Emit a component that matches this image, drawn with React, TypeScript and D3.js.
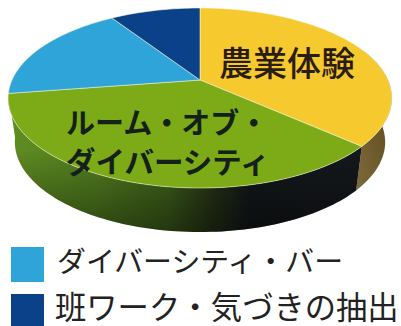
import React from "react";
import * as d3 from "d3";

const categories = ["農業体験", "ルーム・オブ・ダイバーシティ", "ダイバーシティ・バー", "班ワーク・気づきの抽出"];
const shares = [36.6, 36, 18.2, 9.2];
const topColors = ["#f6c92f", "#7cab17", "#2fa4d9", "#0a4189"];
const legendEntries = [
  { index: 2, size: 28.9 },
  { index: 3, size: 31.3 },
];

const FONT = "'Noto Sans CJK JP', sans-serif";

// The disc is seen in perspective, so its hub sits above the centre of the outline.
const PERSPECTIVE = -0.2;
const HUB_Y = 80;
const SCALE_Y = 70.4;
const SCALE_X = 188;
const CENTER_X = 200;

type Pt = [number, number];

function project(angle: number, radius = 1, drop = 0, shrink = 1): Pt {
  const x = radius * Math.sin(angle);
  const y = -radius * Math.cos(angle);
  const w = 1 + PERSPECTIVE * y;
  return [CENTER_X + ((SCALE_X * x) / w) * shrink, (HUB_Y + SCALE_Y * y) / w + drop];
}

function sampleAngles(a0: number, a1: number): number[] {
  const n = Math.max(4, Math.ceil(Math.abs(a1 - a0) * 40));
  return d3.range(n + 1).map((i) => a0 + ((a1 - a0) * i) / n);
}

const path = d3.line<Pt>().x((d) => d[0]).y((d) => d[1]);
const pieLayout = d3.pie<number>().sort(null).value((d) => d);
const arcs = pieLayout(shares);

const DEPTH = 44;
const BOTTOM_SHRINK = 0.965;

function sidePath(a0: number, a1: number): string {
  const upper = sampleAngles(a0, a1).map((a) => project(a));
  const lower = sampleAngles(a1, a0).map((a) => project(a, 1, DEPTH, BOTTOM_SHRINK));
  return path([...upper, ...lower])! + "Z";
}

function slicePath(a0: number, a1: number): string {
  return path([project(0, 0), ...sampleAngles(a0, a1).map((a) => project(a))])! + "Z";
}

export default function App() {
  const yellow = arcs[0];
  const green = arcs[1];
  const wall = sidePath(green.startAngle, green.endAngle);
  return (
    <svg
      width={401}
      height={326}
      viewBox="0 0 401 326"
      style={{ position: "absolute", left: 0, top: 0, background: "#fff" }}
      fontFamily={FONT}
    >
      <defs>
        <linearGradient id="wall" x1="0" x2="1" y1="0" y2="0">
          <stop offset="0" stopColor="#5f8c22" />
          <stop offset="0.25" stopColor="#527f1f" />
          <stop offset="0.45" stopColor="#41631b" />
          <stop offset="0.58" stopColor="#263516" />
          <stop offset="0.68" stopColor="#14181a" />
          <stop offset="1" stopColor="#15181c" />
        </linearGradient>
        <linearGradient id="wallShade" gradientUnits="userSpaceOnUse" x1="0" x2="0" y1="150" y2="232">
          <stop offset="0" stopColor="#000" stopOpacity={0} />
          <stop offset="1" stopColor="#000" stopOpacity={0.45} />
        </linearGradient>
        <linearGradient id="wallEnd" x1="0" x2="1" y1="1" y2="0">
          <stop offset="0" stopColor="#7d6a3a" />
          <stop offset="1" stopColor="#5a4318" />
        </linearGradient>
      </defs>

      {/* Side wall of the disc */}
      <path d={sidePath(1.2, yellow.endAngle)} fill="url(#wallEnd)" />
      <path d={wall} fill="url(#wall)" />
      <path d={wall} fill="url(#wallShade)" />

      {/* Top face */}
      {arcs.map((a, i) => (
        <path
          key={categories[i]}
          d={slicePath(a.startAngle, a.endAngle)}
          fill={topColors[i]}
          stroke="#f3f5d8"
          strokeOpacity={0.55}
          strokeWidth={1}
          strokeLinejoin="round"
        />
      ))}

      {/* Slice captions */}
      <g fontWeight={500} fill="#2b1c10">
        <text x={219} y={76} fontSize={34}>農業体験</text>
      </g>
      <g fontWeight={700} fill="#14201a">
        <text x={66} y={134} fontSize={29}>ルーム・オブ・</text>
        <text x={66} y={173} fontSize={29.5}>ダイバーシティ</text>
      </g>

      {/* Legend */}
      {legendEntries.map((entry, row) => {
        const y = 247 + row * 47;
        return (
          <g key={entry.index}>
            <rect x={11} y={y} width={33} height={35} fill={topColors[entry.index]} />
            <text x={row === 0 ? 57 : 55} y={y + 25} fontSize={entry.size} fill="#222" fontWeight={400}>
              {categories[entry.index]}
            </text>
          </g>
        );
      })}
    </svg>
  );
}
